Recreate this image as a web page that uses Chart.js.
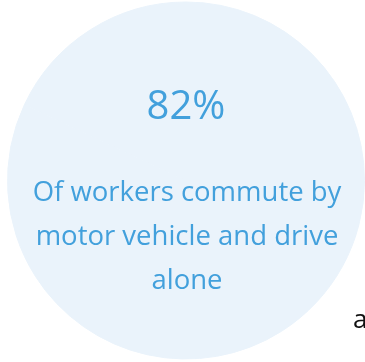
<!DOCTYPE html>
<html>
<head>
<meta charset="utf-8">
<script src="https://cdn.jsdelivr.net/npm/chart.js@4"></script>
<style>
  html, body { margin: 0; padding: 0; background: #ffffff; }
  #wrap { position: absolute; left: 0; top: 0; width: 365px; height: 362px; }
</style>
</head>
<body>
<div id="wrap"><canvas id="c" width="365" height="362"></canvas></div>
<script>
// Share of workers who commute by motor vehicle and drive alone
const statValue = 82;
const statParts = [statValue, 100 - statValue];
const statLabel = statValue + '%';
const captionLines = ['Of workers commute by', 'motor vehicle and drive', 'alone'];
const sideNote = 'a';

const circleFill = '#eaf3fb';
const textBlue = '#42a0dc';
const fontFamily = "'Open Sans', 'Noto Sans', sans-serif";

const statText = {
  id: 'statText',
  afterDraw(chart) {
    const ctx = chart.ctx;
    const arc = chart.getDatasetMeta(0).data[0];
    const cx = arc.x;
    const cy = arc.y;
    ctx.save();
    ctx.textAlign = 'center';
    ctx.textBaseline = 'alphabetic';
    ctx.fillStyle = textBlue;
    ctx.font = '40px ' + fontFamily;
    ctx.fillText(statLabel, cx, cy - 62);
    ctx.font = '27.5px ' + fontFamily;
    captionLines.forEach((line, i) => {
      ctx.fillText(line, cx + 1, cy + 20 + i * 44);
    });
    ctx.textAlign = 'left';
    ctx.fillStyle = '#111111';
    ctx.font = '26px ' + fontFamily;
    ctx.fillText(sideNote, 353, 328);
    ctx.restore();
  }
};

new Chart(document.getElementById('c'), {
  type: 'pie',
  data: {
    labels: ['Drive alone', 'Other'],
    datasets: [{
      data: statParts,
      backgroundColor: [circleFill, circleFill],
      borderColor: [circleFill, circleFill],
      borderWidth: 1
    }]
  },
  options: {
    responsive: false,
    animation: false,
    layout: { padding: { left: 7, right: 0, top: 1, bottom: 2 } },
    plugins: {
      legend: { display: false },
      tooltip: { enabled: false }
    }
  },
  plugins: [statText]
});
</script>
</body>
</html>
